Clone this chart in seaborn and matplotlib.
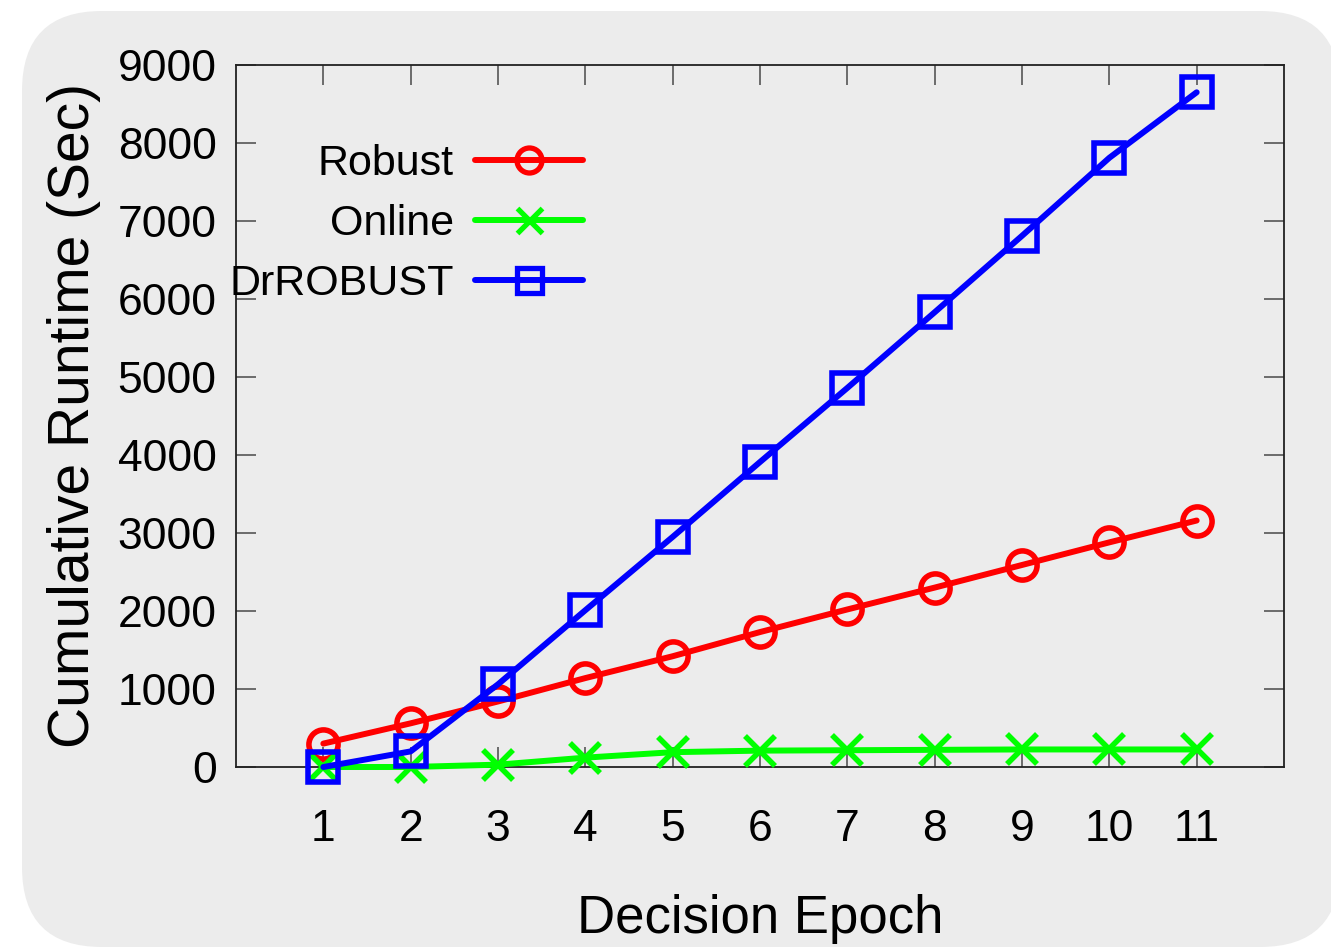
import matplotlib
matplotlib.use("Agg")
import matplotlib.pyplot as plt
from matplotlib.patches import FancyBboxPatch
from matplotlib.lines import Line2D
import seaborn as sns
import pandas as pd

epochs = [1, 2, 3, 4, 5, 6, 7, 8, 9, 10, 11]
robust = [300, 560, 840, 1140, 1420, 1730, 2020, 2300, 2590, 2880, 3160]
online = [0, 0, 30, 120, 190, 210, 215, 220, 225, 225, 225]
drrobust = [0, 200, 1060, 2010, 2950, 3910, 4860, 5830, 6810, 7810, 8650]
series_names = ["Robust", "Online", "DrROBUST"]
y_ticks = [0, 1000, 2000, 3000, 4000, 5000, 6000, 7000, 8000, 9000]

series = {"Robust": robust, "Online": online, "DrROBUST": drrobust}

sns.set_style("ticks")
plt.rcParams["font.family"] = ["Liberation Sans", "DejaVu Sans"]
plt.rcParams["text.color"] = "black"
plt.rcParams["axes.labelcolor"] = "black"
plt.rcParams["xtick.labelcolor"] = "black"
plt.rcParams["ytick.labelcolor"] = "black"

fig = plt.figure(figsize=(13.31, 9.5), dpi=100)
fig.patch.set_facecolor("white")

# background panel (pixel coordinates)
ax_bg = fig.add_axes([0, 0, 1, 1], zorder=-5)
ax_bg.set_xlim(0, 1331)
ax_bg.set_ylim(950, 0)
ax_bg.axis("off")
ax_bg.add_patch(FancyBboxPatch((22, 11), 1340 - 22, 947 - 11,
                               boxstyle="round,pad=0,rounding_size=80",
                               facecolor="#ececec", edgecolor="none"))

ax = fig.add_axes([236 / 1331, 1 - 767 / 950, (1284 - 236) / 1331, (767 - 65) / 950])
ax.set_facecolor("none")

palette = {"Robust": "#ff0000", "Online": "#00ff00", "DrROBUST": "#0000ff"}
markers = {"Robust": "o", "Online": "x", "DrROBUST": "s"}
for name in series_names:
    d = pd.DataFrame({"epoch": epochs, "runtime": series[name]})
    sns.lineplot(data=d, x="epoch", y="runtime", color=palette[name], marker=markers[name],
                 ax=ax, linewidth=4.3, markersize=21, markeredgewidth=4.0,
                 markerfacecolor="none", markeredgecolor=palette[name],
                 clip_on=False, zorder=3)

ax.set_xlim(0, 12)
ax.set_ylim(0, 9000)
ax.set_xticks(epochs)
ax.set_yticks(y_ticks)
ax.set_xticklabels([str(e) for e in epochs])
ax.set_yticklabels([str(v) for v in y_ticks])
ax.tick_params(axis="both", direction="in", length=14.5, width=1.2, color="#555555",
               labelsize=32, top=True, right=True)
ax.tick_params(axis="x", pad=30)
ax.tick_params(axis="y", pad=14)
for s in ax.spines.values():
    s.set_visible(True)
    s.set_linewidth(1.3)
    s.set_color("#222222")

ax.set_xlabel("Decision Epoch", fontsize=38, labelpad=32)
ax.set_ylabel("Cumulative Runtime (Sec)", fontsize=41, labelpad=12)

handles = [Line2D([], [], color=palette[n], marker=markers[n], linewidth=4.3, markersize=18,
                  markeredgewidth=3.8, markerfacecolor="none", markeredgecolor=palette[n])
           for n in series_names]
leg = ax.legend(handles, series_names, loc="center right",
                bbox_to_anchor=((583 - 236) / 1048, (767 - 224) / 702),
                frameon=False, markerfirst=False, fontsize=31, handlelength=2.5,
                labelspacing=0.46, handletextpad=0.5, borderaxespad=0.0, borderpad=0.0)

fig.savefig("out.png", dpi=100, facecolor="white")
